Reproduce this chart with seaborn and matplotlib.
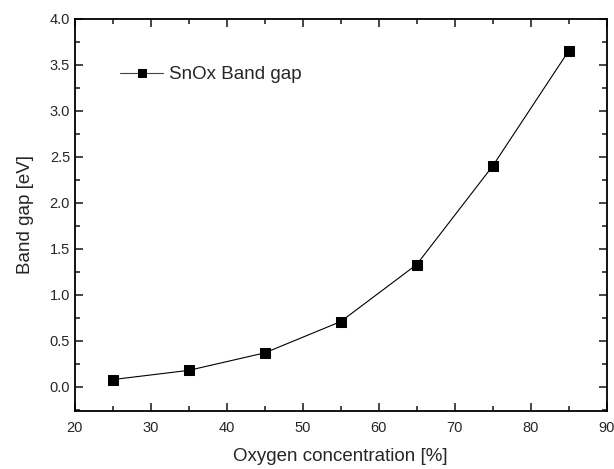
import pandas as pd
import matplotlib.pyplot as plt
import seaborn as sns
from matplotlib.ticker import MultipleLocator

# Data
oxygen = [25, 35, 45, 55, 65, 75, 85]
band_gap = [0.08, 0.18, 0.37, 0.71, 1.33, 2.40, 3.65]
df = pd.DataFrame({'Oxygen': oxygen, 'BandGap': band_gap})

sns.set_style('ticks')
plt.rcParams['font.family'] = ['Liberation Sans', 'DejaVu Sans']

fig = plt.figure(figsize=(6.14, 4.69), dpi=100)
ax = fig.add_axes([0.122, 0.124, 0.866, 0.836])

sns.lineplot(data=df, x='Oxygen', y='BandGap', ax=ax, color='black', linewidth=0.8,
             marker='s', markersize=7, markeredgecolor='black', markerfacecolor='black',
             label='SnOx Band gap')

ax.set_xlim(20, 90)
ax.set_ylim(-0.26, 4.0)
ax.xaxis.set_major_locator(MultipleLocator(10))
ax.xaxis.set_minor_locator(MultipleLocator(5))
ax.yaxis.set_major_locator(MultipleLocator(0.5))
ax.yaxis.set_minor_locator(MultipleLocator(0.25))
ax.yaxis.set_major_formatter(plt.FormatStrFormatter('%.1f'))
ax.tick_params(which='both', direction='in', top=True, right=True, labelsize=10.5, width=1.2)
ax.tick_params(axis='x', pad=7)
ax.tick_params(which='major', length=6)
ax.tick_params(which='minor', length=3.5)
for s in ax.spines.values():
    s.set_linewidth(1.3)
    s.set_color('black')

ax.set_xlabel('Oxygen concentration [%]', fontsize=13.5, labelpad=10)
ax.set_ylabel('Band gap [eV]', fontsize=13.5, labelpad=11)
leg = ax.legend(loc='center left', bbox_to_anchor=(0.085, 0.857), frameon=False, fontsize=13.5,
                handlelength=2.3, handletextpad=0.3, borderaxespad=0, borderpad=0)
for h in leg.legend_handles:
    h.set_markersize(6)
    h.set_color('#444444')
    h.set_markerfacecolor('black')
    h.set_markeredgecolor('black')

fig.savefig('out.png', dpi=100)
